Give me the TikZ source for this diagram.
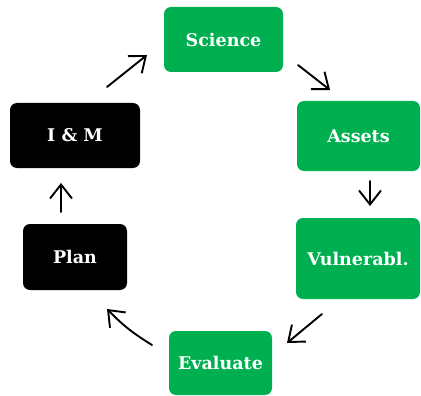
\documentclass[tikz,border=0pt]{standalone}
\usepackage{fontspec}
\setmainfont{DejaVu Serif}
\usetikzlibrary{arrows.meta}
\definecolor{boxgreen}{HTML}{00B050}
\tikzset{
  box/.style={rounded corners=7pt, inner sep=0pt, text=white, font=\bfseries\fontsize{17.5}{20}\selectfont},
  gbox/.style={box, fill=boxgreen},
  kbox/.style={box, fill=black},
  conn/.style={line width=1.9pt, line cap=round, -{Straight Barb[length=14pt,width=22pt,line width=1.9pt]}}
}
\begin{document}
\begin{tikzpicture}[x=1pt,y=-1pt]
\useasboundingbox (0,0) rectangle (421,396);
\node[gbox, minimum width=119pt, minimum height=65pt] (sci) at (223.5,39.5) {Science};
\node[gbox, minimum width=123pt, minimum height=70pt] (ast) at (358.5,136) {Assets};
\node[gbox, minimum width=124pt, minimum height=81pt] (vul) at (358,258.5) {Vulnerabl.};
\node[gbox, minimum width=103pt, minimum height=64pt] (eva) at (220.5,363) {Evaluate};
\node[kbox, minimum width=104pt, minimum height=66pt] (pla) at (75,257) {Plan};
\node[kbox, minimum width=130pt, minimum height=65pt] (iam) at (75,135.5) {I \& M};
\coordinate (a1s) at (107,87);  \coordinate (a1e) at (147,55);
\coordinate (a2s) at (298,65);  \coordinate (a2e) at (330,90);
\coordinate (a3s) at (370,181); \coordinate (a3e) at (370,206);
\coordinate (a4s) at (322,314); \coordinate (a4e) at (287,343);
\coordinate (a5s) at (152,345); \coordinate (a5e) at (107,309);
\coordinate (a6s) at (61,212);  \coordinate (a6e) at (61,183);
\draw[conn] (a1s) -- (a1e);
\draw[conn] (a2s) -- (a2e);
\draw[conn] (a3s) -- (a3e);
\draw[conn] (a4s) -- (a4e);
\draw[conn] (a5s) to[bend left=7] (a5e);
\draw[conn] (a6s) -- (a6e);
\end{tikzpicture}
\end{document}
